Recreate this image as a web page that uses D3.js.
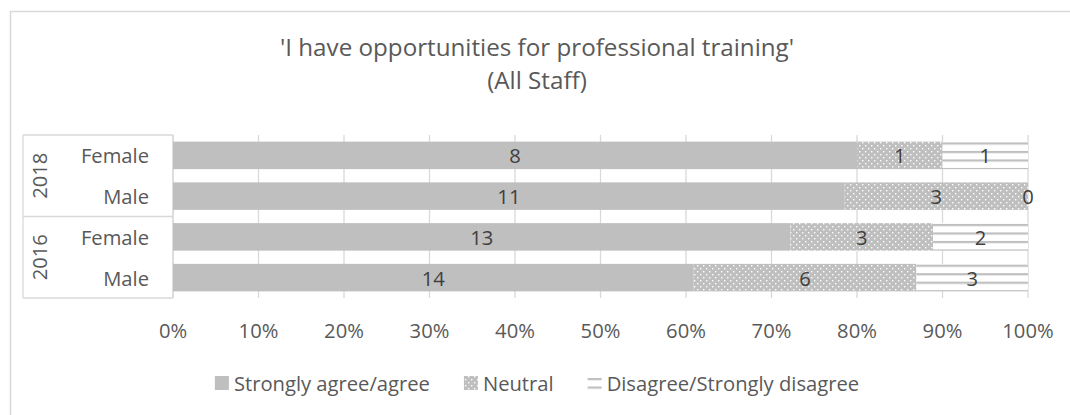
<!DOCTYPE html>
<html>
<head>
<meta charset="utf-8">
<script src="https://cdn.jsdelivr.net/npm/d3@7"></script>
<style>
  html, body { margin: 0; padding: 0; background: #fff; }
  svg { display: block; font-family: "Open Sans", "Noto Sans", sans-serif; }
</style>
</head>
<body>
<svg id="chart" width="1070" height="415"></svg>
<script>
// Survey responses: counts per group
const years = ["2018", "2018", "2016", "2016"];
const genders = ["Female", "Male", "Female", "Male"];
const agree = [8, 11, 13, 14];
const neutral = [1, 3, 3, 6];
const disagree = [1, 0, 2, 3];
const seriesNames = ["Strongly agree/agree", "Neutral", "Disagree/Strongly disagree"];
const tickValues = [0, 0.1, 0.2, 0.3, 0.4, 0.5, 0.6, 0.7, 0.8, 0.9, 1.0];
const titleLines = ["'I have opportunities for professional training'", "(All Staff)"];

const svg = d3.select("#chart");
const W = 1070, H = 415;
const grid = "#d9d9d9", bar = "#bfbfbf", textCol = "#595959", labelCol = "#404040";
const fs = 20.2;

// Outer chart frame
svg.append("rect").attr("x", 10.5).attr("y", 11.5).attr("width", W + 20).attr("height", H + 20)
  .attr("fill", "#fff").attr("stroke", grid).attr("stroke-width", 1.5);

const plot = { left: 173, right: 1028, top: 135, bottom: 298 };
const rows = d3.range(genders.length);
const x = d3.scaleLinear().domain([0, 1]).range([plot.left, plot.right]);
const y = d3.scaleBand().domain(rows).range([plot.top, plot.bottom]).paddingInner(0.325).paddingOuter(0.1625);

// Fill patterns
const defs = svg.append("defs");
const dots = defs.append("pattern").attr("id", "dots").attr("patternUnits", "userSpaceOnUse")
  .attr("width", 6).attr("height", 6);
dots.append("rect").attr("width", 6).attr("height", 6).attr("fill", bar);
dots.append("rect").attr("x", 1).attr("y", 1).attr("width", 1.4).attr("height", 1.4).attr("fill", "#fff");
dots.append("rect").attr("x", 4).attr("y", 4).attr("width", 1.4).attr("height", 1.4).attr("fill", "#fff");

function linesPattern(id, y0) {
  const p = defs.append("pattern").attr("id", id).attr("patternUnits", "userSpaceOnUse")
    .attr("width", 8).attr("height", 8.5).attr("y", y0);
  p.append("rect").attr("width", 8).attr("height", 8.5).attr("fill", "#fff");
  p.append("rect").attr("y", 0).attr("width", 8).attr("height", 2.2).attr("fill", bar);
}
rows.forEach(i => linesPattern("lines" + i, y(i) + 0.8));
linesPattern("linesLegend", 378);

// Gridlines
svg.append("g").selectAll("line").data(tickValues).join("line")
  .attr("x1", d => x(d)).attr("x2", d => x(d))
  .attr("y1", plot.top).attr("y2", plot.bottom)
  .attr("stroke", grid).attr("stroke-width", 1.3);

// Category axis frame (two-level)
const axisG = svg.append("g").attr("stroke", grid).attr("stroke-width", 1.3);
const leftX = 23;
axisG.append("line").attr("x1", leftX).attr("x2", leftX).attr("y1", plot.top).attr("y2", plot.bottom);
axisG.append("line").attr("x1", plot.left).attr("x2", plot.left).attr("y1", plot.top).attr("y2", plot.bottom);
const groupEdges = [plot.top, (plot.top + plot.bottom) / 2, plot.bottom];
axisG.selectAll(".hl").data(groupEdges).join("line")
  .attr("x1", leftX).attr("x2", plot.left).attr("y1", d => d).attr("y2", d => d);

// Stacked shares
const totals = rows.map(i => agree[i] + neutral[i] + disagree[i]);
const segs = [];
rows.forEach(i => {
  const vals = [agree[i], neutral[i], disagree[i]];
  let acc = 0;
  vals.forEach((v, k) => {
    const s0 = acc / totals[i];
    acc += v;
    segs.push({ row: i, k, v, s0, s1: acc / totals[i] });
  });
});
const fills = (d) => d.k === 0 ? bar : d.k === 1 ? "url(#dots)" : `url(#lines${d.row})`;

svg.append("g").selectAll("rect").data(segs).join("rect")
  .attr("x", d => x(d.s0)).attr("width", d => x(d.s1) - x(d.s0))
  .attr("y", d => y(d.row)).attr("height", y.bandwidth())
  .attr("fill", fills);

// Data labels
svg.append("g").selectAll("text").data(segs).join("text")
  .attr("x", d => (x(d.s0) + x(d.s1)) / 2)
  .attr("y", d => y(d.row) + y.bandwidth() / 2)
  .attr("text-anchor", "middle").attr("dominant-baseline", "central")
  .attr("font-size", fs).attr("fill", labelCol)
  .text(d => d.v);

// Gender labels
svg.append("g").selectAll("text").data(rows).join("text")
  .attr("x", 149).attr("y", i => y(i) + y.bandwidth() / 2)
  .attr("text-anchor", "end").attr("dominant-baseline", "central")
  .attr("font-size", fs).attr("fill", textCol)
  .text(i => genders[i]);

// Year labels, rotated
const yearGroups = [
  { label: years[0], y: (groupEdges[0] + groupEdges[1]) / 2 },
  { label: years[2], y: (groupEdges[1] + groupEdges[2]) / 2 }
];
svg.append("g").selectAll("text").data(yearGroups).join("text")
  .attr("transform", d => `translate(39,${d.y}) rotate(-90)`)
  .attr("text-anchor", "middle").attr("dominant-baseline", "central")
  .attr("font-size", fs).attr("fill", textCol)
  .text(d => d.label);

// Percentage axis labels
svg.append("g").selectAll("text").data(tickValues).join("text")
  .attr("x", d => x(d)).attr("y", 330)
  .attr("text-anchor", "middle").attr("dominant-baseline", "central")
  .attr("font-size", fs).attr("fill", textCol)
  .text(d => d3.format(".0%")(d));

// Title
svg.append("g").selectAll("text").data(titleLines).join("text")
  .attr("x", 537).attr("y", (d, i) => 56 + i * 33)
  .attr("text-anchor", "middle")
  .attr("font-size", 24.2).attr("fill", textCol)
  .text(d => d);

// Legend, centred under the plot
const legendFills = [bar, "url(#dots)", "url(#linesLegend)"];
const legend = svg.append("g");
const items = legend.selectAll("g").data(seriesNames).join("g");
items.append("rect").attr("y", 376).attr("width", 14).attr("height", 14)
  .attr("fill", (d, i) => legendFills[i]);
items.append("text").attr("x", 19).attr("y", 383).attr("dominant-baseline", "central")
  .attr("font-size", fs).attr("fill", textCol).text(d => d);
const gap = 34;
const widths = items.nodes().map(n => 19 + n.querySelector("text").getComputedTextLength());
const total = d3.sum(widths) + gap * (widths.length - 1);
let cursor = 537 - total / 2;
items.attr("transform", (d, i) => {
  const t = `translate(${cursor},0)`;
  cursor += widths[i] + gap;
  return t;
});
</script>
</body>
</html>
